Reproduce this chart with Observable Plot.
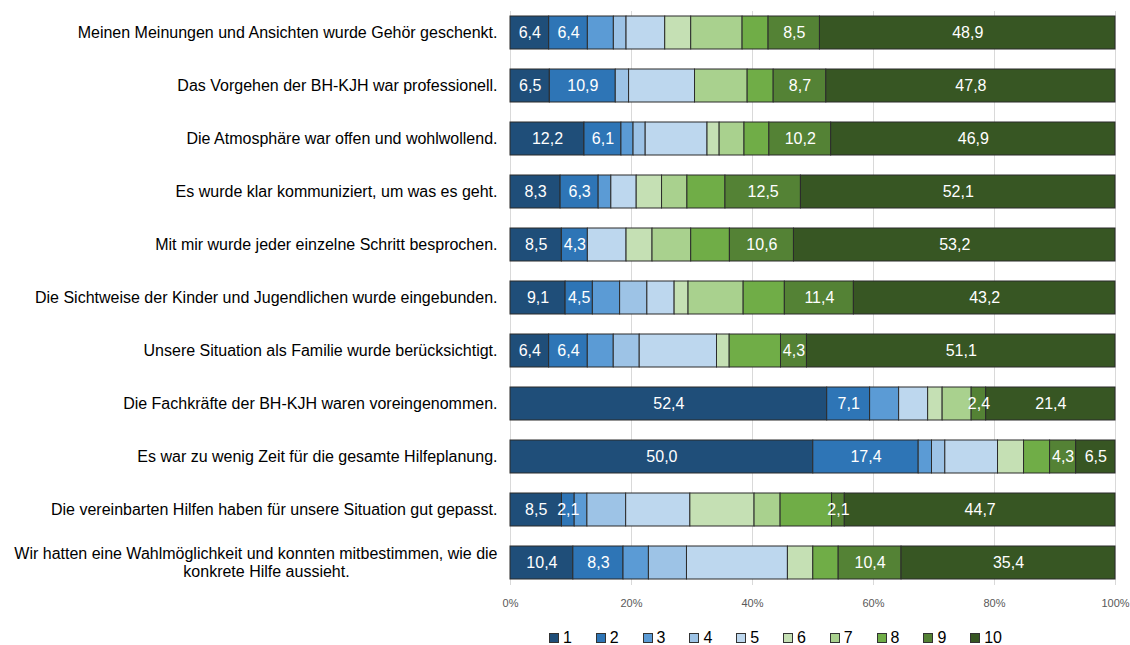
<!DOCTYPE html>
<html><head><meta charset="utf-8">
<script src="https://cdn.jsdelivr.net/npm/d3@7"></script>
<script src="https://cdn.jsdelivr.net/npm/@observablehq/plot@0.6"></script>
<style>
body{margin:0;background:#fff;font-family:"Liberation Sans",Arial,sans-serif;}
#legend{display:flex;margin-left:549px;height:22px;align-items:center;font-size:16px;color:#000;margin-top:2px}
.item{width:46.8px;display:flex;align-items:center}
.sw{width:8px;height:8px;border:1px solid #333;margin-right:4px}
</style></head><body><div id="chart"></div><div id="legend"></div>
<script>
const categories = [
  "Meinen Meinungen und Ansichten wurde Gehör geschenkt.",
  "Das Vorgehen der BH-KJH war professionell.",
  "Die Atmosphäre war offen und wohlwollend.",
  "Es wurde klar kommuniziert, um was es geht.",
  "Mit mir wurde jeder einzelne Schritt besprochen.",
  "Die Sichtweise der Kinder und Jugendlichen wurde eingebunden.",
  "Unsere Situation als Familie wurde berücksichtigt.",
  "Die Fachkräfte der BH-KJH waren voreingenommen.",
  "Es war zu wenig Zeit für die gesamte Hilfeplanung.",
  "Die vereinbarten Hilfen haben für unsere Situation gut gepasst.",
  "Wir hatten eine Wahlmöglichkeit und konnten mitbestimmen, wie die konkrete Hilfe aussieht."
];
const series = ["1","2","3","4","5","6","7","8","9","10"];
const v1  = [6.4, 6.5, 12.2, 8.3, 8.5, 9.1, 6.4, 52.4, 50.0, 8.5, 10.4];
const v2  = [6.4, 10.9, 6.1, 6.3, 4.3, 4.5, 6.4, 7.1, 17.4, 2.1, 8.3];
const v3  = [4.3, 0, 2.0, 2.1, 0, 4.5, 4.3, 4.8, 2.2, 2.1, 4.2];
const v4  = [2.1, 2.2, 2.0, 0, 0, 4.5, 4.3, 0, 2.2, 6.4, 6.3];
const v5  = [6.4, 10.9, 10.2, 4.2, 6.4, 4.5, 12.8, 4.8, 8.7, 10.6, 16.7];
const v6  = [4.3, 0, 2.0, 4.2, 4.3, 2.3, 2.1, 2.4, 4.3, 10.6, 4.2];
const v7  = [8.5, 8.7, 4.1, 4.2, 6.4, 9.1, 0, 4.8, 0, 4.3, 0];
const v8  = [4.3, 4.3, 4.1, 6.3, 6.4, 6.8, 8.5, 0, 4.3, 8.5, 4.2];
const v9  = [8.5, 8.7, 10.2, 12.5, 10.6, 11.4, 4.3, 2.4, 4.3, 2.1, 10.4];
const v10 = [48.9, 47.8, 46.9, 52.1, 53.2, 43.2, 51.1, 21.4, 6.5, 44.7, 35.4];
const colors = ["#1f4e79","#2e75b6","#5b9bd5","#9dc3e6","#bdd7ee","#c5e0b4","#a9d18e","#70ad47","#548235","#375623"];
const labeledSeries = ["1","2","9","10"];
const xTicks = [0, 0.2, 0.4, 0.6, 0.8, 1];

const vals = [v1,v2,v3,v4,v5,v6,v7,v8,v9,v10];
const rows = categories.flatMap((c, i) => series.map((s, j) => ({cat: c, s, v: vals[j][i]}))).filter(d => d.v > 0);
const fmt = v => d3.format(".1f")(v).replace(".", ",");

const wrapped = categories[10];
const line1 = "Wir hatten eine Wahlmöglichkeit und konnten mitbestimmen, wie die";
const line2 = "konkrete Hilfe aussieht.";
const single = categories.filter(c => c !== wrapped);

const chart = Plot.plot({
  width: 1130, height: 625,
  marginLeft: 510, marginRight: 15, marginTop: 11, marginBottom: 40,
  style: {fontFamily: "'Liberation Sans', Arial, sans-serif", background: "#fff"},
  x: {domain: [0, 1], axis: null},
  y: {domain: categories, paddingInner: 0.372, paddingOuter: 0.1, axis: null},
  color: {domain: series, range: colors},
  marks: [
    Plot.gridX(xTicks, {stroke: "#d9d9d9", strokeOpacity: 1}),
    Plot.barX(rows, Plot.stackX({x: "v", y: "cat", fill: "s", order: series, offset: "normalize", stroke: "#2b2b2b", strokeWidth: 1})),
    Plot.text(rows, Plot.stackX({x: "v", y: "cat", z: "s", order: series, offset: "normalize",
      text: d => labeledSeries.includes(d.s) ? fmt(d.v) : "", fill: "white", fontSize: 16})),
    Plot.axisX({ticks: xTicks, tickFormat: d3.format(".0%"), tickSize: 0, tickPadding: 14, fontSize: 11, fill: "#595959", label: null}),
    Plot.text(single, {y: d => d, text: d => d, frameAnchor: "left", dx: -13, textAnchor: "end", fontSize: 16, fill: "#000"}),
    Plot.text([wrapped], {y: d => d, text: () => line1, frameAnchor: "left", dx: -13, dy: -9, textAnchor: "end", fontSize: 16, fill: "#000"}),
    Plot.text([wrapped], {y: d => d, text: () => line2, frameAnchor: "left", dx: -244, dy: 9, textAnchor: "middle", fontSize: 16, fill: "#000"})
  ]
});
document.getElementById("chart").append(chart);

const legend = document.getElementById("legend");
series.forEach((s, j) => {
  const it = document.createElement("div");
  it.className = "item";
  const sw = document.createElement("span");
  sw.className = "sw";
  sw.style.background = colors[j];
  const t = document.createElement("span");
  t.textContent = s;
  it.append(sw, t);
  legend.append(it);
});
</script></body></html>
